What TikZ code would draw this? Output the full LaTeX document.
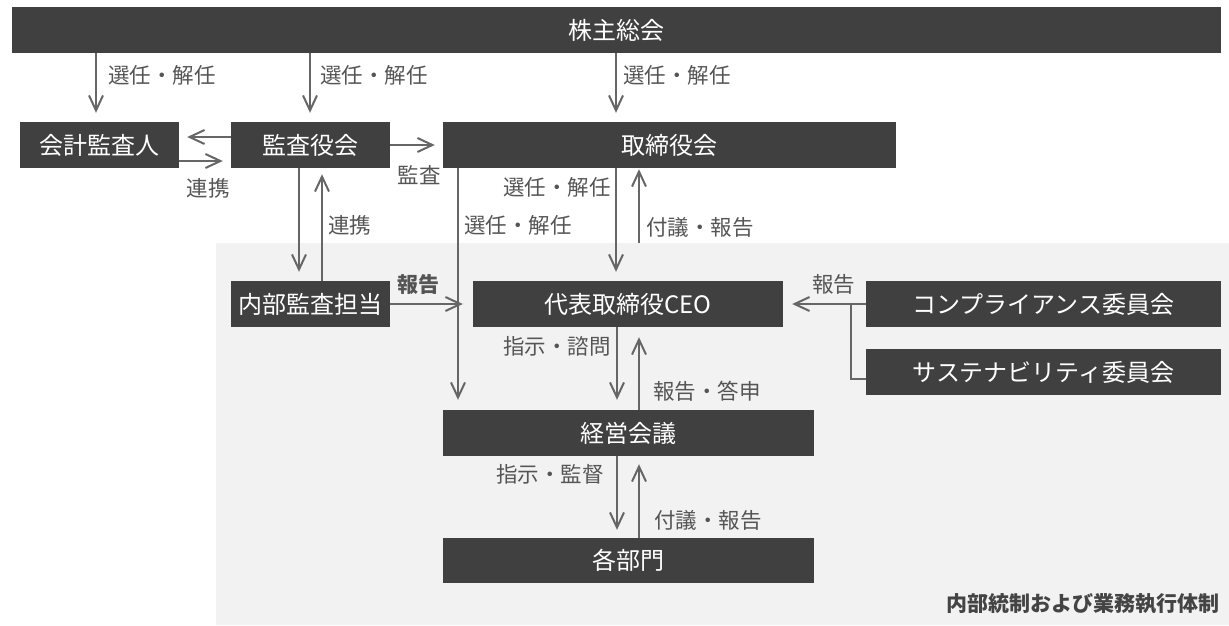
\documentclass[tikz,border=0pt]{standalone}
\usepackage{fontspec}
\setmainfont{Noto Sans CJK JP}
\usetikzlibrary{arrows.meta}
\definecolor{boxc}{HTML}{404040}
\definecolor{linec}{HTML}{666666}
\definecolor{labc}{HTML}{555555}
\definecolor{bgc}{HTML}{F2F2F2}
\definecolor{titlec}{HTML}{444444}
\begin{document}
\begin{tikzpicture}[x=1pt,y=-1pt,
  box/.style={fill=boxc,text=white,inner sep=0pt,font=\fontsize{24}{28}\selectfont,minimum height=46pt},
  lab/.style={text=labc,inner sep=0pt,font=\fontsize{21.5}{24}\selectfont},
  arr/.style={draw=linec,line width=2pt,-{Straight Barb[length=15pt,width=14pt]}},
  conn/.style={draw=linec,line width=2pt}]
\useasboundingbox (0,0) rectangle (1229,625);
% background region
\fill[bgc] (216,243) rectangle (1229,625);
% boxes
\node[box,minimum width=1209pt] (sh) at (616.5,30) {株主総会};
\node[box,minimum width=159pt] (kaikei) at (99.5,145) {会計監査人};
\node[box,minimum width=159pt] (kansa) at (310.5,145) {監査役会};
\node[box,minimum width=453pt] (tori) at (669.5,145) {取締役会};
\node[box,minimum width=159pt] (naibu) at (310.5,304) {内部監査担当};
\node[box,minimum width=310pt] (ceo) at (628,304) {代表取締役CEO};
\node[box,minimum width=355pt] (comp) at (1043.5,304) {コンプライアンス委員会};
\node[box,minimum width=355pt] (sust) at (1043.5,372) {サステナビリティ委員会};
\node[box,minimum width=371pt] (keiei) at (628.5,433) {経営会議};
\node[box,minimum width=371pt,minimum height=45pt] (kakubu) at (628.5,560.5) {各部門};
% connectors
\draw[arr,shorten >=9pt] (sh.south -| 96,0) -- (kaikei.north -| 96,0);
\draw[arr,shorten >=9pt] (sh.south -| 310,0) -- (kansa.north -| 310,0);
\draw[arr,shorten >=9pt] (sh.south -| 616,0) -- (tori.north -| 616,0);
\draw[arr,shorten >=8pt] (kansa.west |- 0,137) -- (kaikei.east |- 0,137);
\draw[arr,shorten >=8pt] (kaikei.east |- 0,161) -- (kansa.west |- 0,161);
\draw[arr,shorten >=8pt] (kansa.east |- 0,145) -- (tori.west |- 0,145);
\draw[arr,shorten >=9pt] (kansa.south -| 299,0) -- (naibu.north -| 299,0);
\draw[arr,shorten >=6pt] (naibu.north -| 322,0) -- (kansa.south -| 322,0);
\draw[arr,shorten >=10pt] (tori.south -| 458,0) -- (keiei.north -| 458,0);
\draw[arr,shorten >=9pt] (tori.south -| 616,0) -- (ceo.north -| 616,0);
\coordinate (upstart) at (639,243);
\draw[arr,shorten >=1pt] (upstart) -- (tori.south -| upstart);
\draw[arr,shorten >=10pt] (naibu.east |- 0,304) -- (ceo.west |- 0,304);
\draw[arr,shorten >=9pt] (comp.west |- 0,304) -- (ceo.east |- 0,304);
\coordinate (branch) at (851,304);
\draw[conn] (sust.west |- 0,379) -| (branch);
\draw[arr,shorten >=10pt] (ceo.south -| 617,0) -- (keiei.north -| 617,0);
\draw[arr,shorten >=10pt] (keiei.north -| 639,0) -- (ceo.south -| 639,0);
\draw[arr,shorten >=8pt] (keiei.south -| 617,0) -- (kakubu.north -| 617,0);
\draw[arr,shorten >=8pt] (kakubu.north -| 639,0) -- (keiei.south -| 639,0);
% labels
\node[lab,anchor=west] (l1) at (108,75) {選任・解任};
\node[lab,anchor=west] (l2) at (320,75) {選任・解任};
\node[lab,anchor=west] (l3) at (623,75) {選任・解任};
\node[lab] (l4) at (208,188) {連携};
\node[lab] (l5) at (419,175) {監査};
\node[lab,anchor=west] (l6) at (328,225) {連携};
\node[lab,anchor=east] (l7) at (611,187) {選任・解任};
\node[lab,anchor=west] (l8) at (464,225) {選任・解任};
\node[lab,anchor=west] (l9) at (646,227) {付議・報告};
\node[lab,font=\bfseries\fontsize{21}{24}\selectfont] (l10) at (418.5,285) {報告};
\node[lab] (l11) at (833.5,284) {報告};
\node[lab,anchor=east] (l12) at (611,346) {指示・諮問};
\node[lab,anchor=west] (l13) at (653,391) {報告・答申};
\node[lab,anchor=east] (l14) at (604,474) {指示・監督};
\node[lab,anchor=west] (l15) at (654,520) {付議・報告};
\node[text=titlec,inner sep=0pt,anchor=east,font=\bfseries\fontsize{21}{24}\selectfont] (title) at (1220,604) {内部統制および業務執行体制};
\end{tikzpicture}
\end{document}
